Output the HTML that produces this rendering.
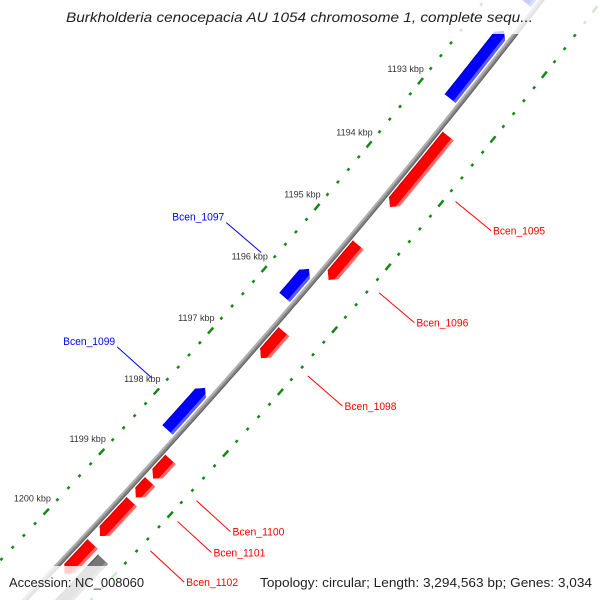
<!DOCTYPE html>
<html><head><meta charset="utf-8"><style>
html,body{margin:0;padding:0;background:#fff;width:600px;height:600px;overflow:hidden;}
svg{display:block;font-family:"Liberation Sans",sans-serif;}
</style></head><body>
<svg id="map" width="600" height="600" viewBox="0 0 600 600" xmlns="http://www.w3.org/2000/svg">
<rect x="0" y="0" width="600" height="600" fill="#fff"/>
<g id="rings"></g>
<g id="backbone"></g>
<g id="features"></g>
<rect x="0" y="0" width="600" height="34" fill="#fff" fill-opacity="0.8"/>
<text x="66" y="22" font-size="13.5" font-style="italic" fill="#222" textLength="467" lengthAdjust="spacingAndGlyphs">Burkholderia cenocepacia AU 1054 chromosome 1, complete sequ...</text>
<rect x="0" y="566" width="600" height="34" fill="#fff" fill-opacity="0.8"/>
<text x="9" y="587" font-size="13" fill="#222" textLength="135" lengthAdjust="spacingAndGlyphs">Accession: NC_008060</text>
<text x="260" y="587" font-size="13" fill="#222" textLength="332" lengthAdjust="spacingAndGlyphs">Topology: circular; Length: 3,294,563 bp; Genes: 3,034</text>
<g id="labels"></g>
</svg>
<script>
const tickKbp = [1191,1192,1193,1194,1195,1196,1197,1198,1199,1200,1201];
const tickLabels = ["","","1193 kbp","1194 kbp","1195 kbp","1196 kbp","1197 kbp","1198 kbp","1199 kbp","1200 kbp",""];
const featStart = [1190.4,1191.88,1195.64,1197.57,1193.31,1195.03,1196.42,1198.50,1198.87,1199.20,1199.90,1199.95];
const featEnd   = [1191.45,1192.94,1196.10,1198.26,1194.43,1195.59,1196.85,1198.82,1199.13,1199.77,1200.40,1201.2];
const featStrand = ["fwd","fwd","fwd","fwd","rev","rev","rev","rev","rev","rev","rev","other"];
const featName = ["","","Bcen_1097","Bcen_1099","Bcen_1095","Bcen_1096","Bcen_1098","Bcen_1100","Bcen_1101","Bcen_1102","",""];

const NS="http://www.w3.org/2000/svg";
const A=541.6,B=-0.770,C=-0.0001525;
function cx(y){return A+B*y+C*y*y;}
function dx(y){return B+2*C*y;}
const Y0=-300,DY=0.5,tbl=[];
let acc=0;for(let i=0;i<=2400;i++){const y=Y0+i*DY;tbl.push(acc);const d=dx(y+DY/2);acc+=DY*Math.sqrt(1+d*d);}
function sOfY(y){const f=(y-Y0)/DY,i=Math.floor(f);return tbl[i]+(tbl[i+1]-tbl[i])*(f-i);}
function yOfS(s){let lo=0,hi=tbl.length-1;while(hi-lo>1){const m=(lo+hi)>>1;if(tbl[m]<s)lo=m;else hi=m;}return Y0+(lo+(s-tbl[lo])/(tbl[hi]-tbl[lo]))*DY;}
const S_REF=sOfY(298.4),PX_PER_KBP=82;
function pt(k,p){const y=yOfS(S_REF+(k-1196)*PX_PER_KBP);const x=cx(y);const d=dx(y);const n=Math.sqrt(1+d*d);return [x+p/n, y+(-d)*p/n];}
function tan(k){const y=yOfS(S_REF+(k-1196)*PX_PER_KBP);const d=dx(y);const n=Math.sqrt(1+d*d);return [d/n,1/n];}
function el(tag,attrs,parent){const e=document.createElementNS(NS,tag);for(const a in attrs)e.setAttribute(a,attrs[a]);parent.appendChild(e);return e;}
function curvePath(k1,k2,p){let d="";for(let k=k1;k<=k2+1e-9;k+=0.05){const q=pt(k,p);d+=(d?"L":"M")+q[0].toFixed(1)+","+q[1].toFixed(1);}return d;}

const bb=document.getElementById('backbone');
const b1=el('path',{d:curvePath(1189.5,1201.8,-1.5),stroke:"#b0b0b0","stroke-width":2,fill:"none"},bb);


const b2=el('path',{d:curvePath(1189.5,1201.8,0.5),stroke:"#858585","stroke-width":2,fill:"none"},bb);


const b3=el('path',{d:curvePath(1189.5,1201.8,2),stroke:"#606060","stroke-width":1.2,fill:"none"},bb);



const rg=document.getElementById('rings');
const ringP=[-45,48];
ringP.forEach((rp)=>{
  for(let i=0;i<tickKbp.length-1;i++){
    for(let j=0;j<5;j++){
      const k=tickKbp[i]+j*0.2;const q=pt(k,rp);const t=tan(k);const L=(j===0?4:1.5);
      const ln=el('line',{x1:q[0]-t[0]*L,y1:q[1]-t[1]*L,x2:q[0]+t[0]*L,y2:q[1]+t[1]*L,stroke:"#128a12","stroke-width":2.5},rg);
      
      
    }
  }
});
tickKbp.forEach((k,i)=>{
  if(!tickLabels[i])return;
  const q=pt(k,-64);
  const tx=el('text',{x:q[0],y:q[1]+3,"font-size":9,fill:"#333","text-anchor":"middle"},rg);
  tx.textContent=tickLabels[i];
  
  
});

const fg=document.getElementById('features'),lg=document.getElementById('labels');
const defs=el('defs',{},document.getElementById('map'));
const H=0.085;
featStart.forEach((k1,i)=>{
  const k2=featEnd[i],st=featStrand[i];
  let p1,p2,col,dark,light;
  if(st==="fwd"){p1=-18;p2=-4;col="#0000ff";dark="#0000c0";light="#5c5cff";}
  else if(st==="rev"){p1=4;p2=18;col="#ff0000";dark="#c40000";light="#ff6a6a";}
  else {p1=22;p2=36;col="#777";dark="#555";light="#999";}
  const pm=(p1+p2)/2;let poly=[];
  const seg=(ka,kb,p)=>{const r=[];const n=Math.max(2,Math.ceil((kb-ka)/0.05));for(let m=0;m<=n;m++)r.push(pt(ka+(kb-ka)*m/n,p));return r;};
  if(st==="fwd"){poly=[pt(k1,pm)].concat(seg(k1+H,k2,p2),seg(k1+H,k2,p1).reverse());}
  else if(st==="rev"){poly=seg(k1,k2-H,p1).concat([pt(k2,pm)],seg(k1,k2-H,p2).reverse());}
  else {poly=seg(k1,k2,p1).concat(seg(k1,k2,p2).reverse());}
  const ptsStr=poly.map(q=>q[0].toFixed(1)+","+q[1].toFixed(1)).join(" ");
  const cp=el('clipPath',{id:"fc"+i},defs);
  el('polygon',{points:ptsStr},cp);
  const g=el('g',{"clip-path":"url(#fc"+i+")"},fg);
  
  
  el('polygon',{points:ptsStr,fill:col},g);
  const sd=seg(k1-0.2,k2+0.2,p1+1).concat(seg(k1-0.2,k2+0.2,p1-3).reverse());
  el('polygon',{points:sd.map(q=>q.join(",")).join(" "),fill:dark},g);
  const sl=seg(k1-0.2,k2+0.2,p2-3).concat(seg(k1-0.2,k2+0.2,p2+3).reverse());
  el('polygon',{points:sl.map(q=>q.join(",")).join(" "),fill:light},g);
  if(featName[i]){
    const km=(k1+k2)/2,sgn=(st==="fwd"?-1:1);
    const a=pt(km,sgn*58),b=pt(km,sgn*104);
    const lc=(st==="fwd"?"#0000ff":"#ff0000");
    const ln=el('line',{x1:a[0],y1:a[1],x2:b[0],y2:b[1],stroke:lc,"stroke-width":1},lg);
    
    
    const tx=el('text',{x:st==="fwd"?b[0]-2:b[0]+2,y:b[1]+(st==="fwd"?-2:4),"font-size":11,fill:lc,"text-anchor":st==="fwd"?"end":"start",textLength:52,lengthAdjust:"spacingAndGlyphs"},lg);
    tx.textContent=featName[i];
    
    
  }
});
</script>
</body></html>
